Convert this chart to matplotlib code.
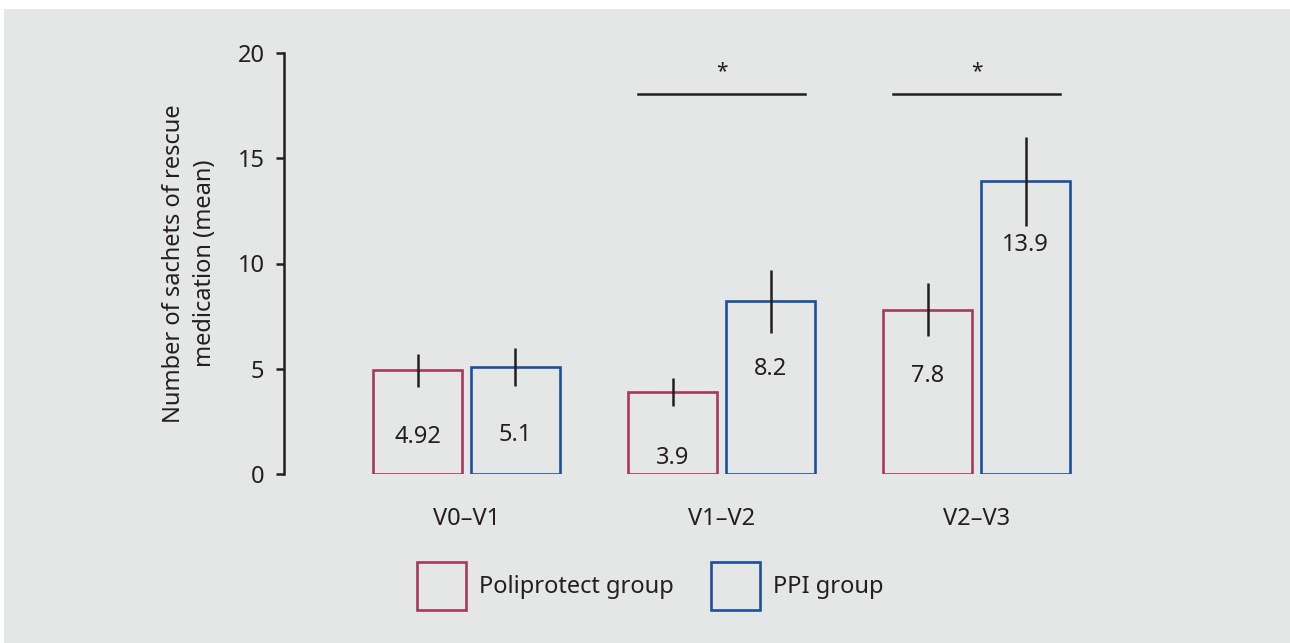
import matplotlib
matplotlib.use('Agg')
import matplotlib.pyplot as plt
from matplotlib.patches import Patch, Rectangle
import numpy as np

plt.rcParams['font.family'] = ['Noto Sans', 'DejaVu Sans']

periods = ['V0–V1', 'V1–V2', 'V2–V3']
groups = ['Poliprotect group', 'PPI group']
poli_mean = [4.92, 3.9, 7.8]
poli_err = [0.8, 0.65, 1.25]
ppi_mean = [5.1, 8.2, 13.9]
ppi_err = [0.9, 1.5, 2.1]
poli_labels = ['4.92', '3.9', '7.8']
ppi_labels = ['5.1', '8.2', '13.9']
# periods with a significant difference
signif = [1, 2]

# where the value labels sit inside the bars (data units)
poli_label_y = [1.76, 0.76, 4.65]
ppi_label_y = [1.85, 5.0, 10.9]

c_poli = '#a6395d'
c_ppi = '#1c4f9b'
c_ink = '#231f20'
bg = '#e5e6e6'

fig = plt.figure(figsize=(12.9, 6.43), dpi=100, facecolor='white')
fig.patches.append(Rectangle((4 / 1290, 0), 1, 634 / 643, transform=fig.transFigure,
                             facecolor=bg, edgecolor='none', zorder=-10))
ax = fig.add_axes([284 / 1290, 169 / 643, 816 / 1290, 421 / 643])
ax.set_facecolor('none')

x = np.arange(len(periods))
w = 0.349
off = 0.192
ax.bar(x - off, poli_mean, w, facecolor='none', edgecolor=c_poli, linewidth=1.9)
ax.bar(x + off, ppi_mean, w, facecolor='none', edgecolor=c_ppi, linewidth=1.9)
ax.errorbar(x - off, poli_mean, yerr=poli_err, fmt='none', ecolor=c_ink, elinewidth=1.8, capsize=0)
ax.errorbar(x + off, ppi_mean, yerr=ppi_err, fmt='none', ecolor=c_ink, elinewidth=1.8, capsize=0)

for i in range(len(periods)):
    ax.text(x[i] - off, poli_label_y[i], poli_labels[i], ha='center', va='center',
            fontsize=17, color=c_ink)
    ax.text(x[i] + off, ppi_label_y[i], ppi_labels[i], ha='center', va='center',
            fontsize=17, color=c_ink)

for i in signif:
    ax.plot([x[i] - 0.327, x[i] + 0.327], [18.05, 18.05], color=c_ink, lw=1.8)
    ax.text(x[i], 19.1, '*', ha='center', va='center', fontsize=15, color=c_ink,
            fontweight='bold')

ax.set_xlim(-0.7157, 2.484)
ax.set_ylim(0, 20)
ax.set_yticks([0, 5, 10, 15, 20])
ax.set_xticks(x)
ax.set_xticklabels(periods)
for s in ['top', 'right', 'bottom']:
    ax.spines[s].set_visible(False)
ax.spines['left'].set_color(c_ink)
ax.spines['left'].set_linewidth(1.8)
ax.tick_params(axis='y', length=6, width=1.8, color=c_ink, labelsize=17,
               labelcolor=c_ink, pad=8)
ax.tick_params(axis='x', length=0, labelsize=17, labelcolor=c_ink, pad=24)
ax.set_ylabel('Number of sachets of rescue\nmedication (mean)', fontsize=17,
              color=c_ink, labelpad=15, linespacing=1.35)

handles = [Patch(facecolor='none', edgecolor=c_poli, linewidth=1.9),
           Patch(facecolor='none', edgecolor=c_ppi, linewidth=1.9)]
fig.legend(handles, groups, loc='center', bbox_to_anchor=(0.504, 0.0886), ncol=2,
           frameon=False, fontsize=17, handlelength=2.1, handleheight=2.8,
           handletextpad=0.55, columnspacing=1.55, labelcolor=c_ink)

fig.savefig('out.png', dpi=100, facecolor=fig.get_facecolor())
